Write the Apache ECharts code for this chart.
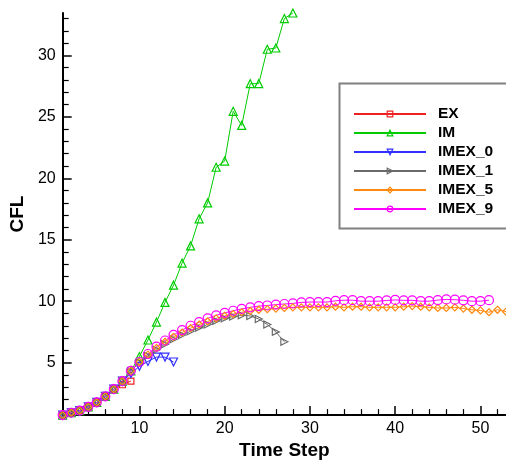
<!DOCTYPE html>
<html>
<head>
<meta charset="utf-8">
<script src="https://cdn.jsdelivr.net/npm/echarts@6/dist/echarts.min.js"></script>
<style>
html,body{margin:0;padding:0;background:#fff;}
#chart{width:506px;height:465px;}
</style>
</head>
<body>
<div id="chart"></div>
<script>
// ---- data ----
var seriesNames = ['EX', 'IM', 'IMEX_0', 'IMEX_1', 'IMEX_5', 'IMEX_9'];
var startStep = 1; // all series start at time step 1

var EX = [0.73, 0.92, 1.1, 1.4, 1.77, 2.25, 2.84, 3.2, 3.5];
var IM = [0.73, 0.92, 1.1, 1.4, 1.77, 2.25, 2.84, 3.5, 4.33,
  5.5, 6.84, 8.3, 9.9, 11.3, 13.1, 14.5, 16.7, 18.0, 20.9,
  21.4, 25.45, 24.3, 27.7, 27.7, 30.5, 30.6, 33.0, 33.45];
var IMEX_0 = [0.73, 0.92, 1.1, 1.4, 1.77, 2.25, 2.84, 3.5, 4.1,
  4.7, 5.1, 5.45, 5.45, 5.05];
var IMEX_1 = [0.73, 0.92, 1.1, 1.4, 1.77, 2.25, 2.84, 3.5, 4.33,
  5.0, 5.55, 6.05, 6.5, 6.9, 7.25, 7.55, 7.85, 8.1, 8.4,
  8.6, 8.75, 8.85, 8.8, 8.55, 8.1, 7.5, 6.7];
var IMEX_5 = [0.73, 0.92, 1.1, 1.4, 1.77, 2.25, 2.84, 3.5, 4.33,
  5.05, 5.65, 6.2, 6.7, 7.1, 7.45, 7.8, 8.1, 8.35, 8.6,
  8.8, 8.95, 9.1, 9.2, 9.3, 9.35, 9.4, 9.45, 9.5, 9.5,
  9.5, 9.5, 9.5, 9.55, 9.5, 9.55, 9.55, 9.5, 9.5, 9.5,
  9.5, 9.55, 9.6, 9.55, 9.5, 9.45, 9.45, 9.5, 9.4, 9.3,
  9.25, 9.1, 9.3, 9.15];
var IMEX_9 = [0.73, 0.92, 1.1, 1.4, 1.77, 2.25, 2.84, 3.5, 4.33,
  5.05, 5.7, 6.3, 6.8, 7.25, 7.65, 8.0, 8.3, 8.6, 8.85,
  9.05, 9.22, 9.37, 9.5, 9.6, 9.65, 9.72, 9.77, 9.82, 9.9,
  9.93, 9.93, 9.93, 10.03, 10.08, 10.08, 10.0, 10.0, 10.0, 10.06,
  10.1, 10.07, 10.07, 10.0, 10.0, 10.09, 10.14, 10.12, 10.07, 10.0,
  10.0, 10.08];

var xMin = 1, xMax = 53;
var yMin = 0.73, yMax = 33.45;
var xMajorTicks = [10, 20, 30, 40, 50];
var xMinorTicks = [2, 4, 6, 8, 12, 14, 16, 18, 22, 24, 26, 28, 32, 34, 36, 38, 42, 44, 46, 48, 52];
var yMajorTicks = [5, 10, 15, 20, 25, 30];
var yMinorTicks = [1, 2, 3, 4, 6, 7, 8, 9, 11, 12, 13, 14, 16, 17, 18, 19, 21, 22, 23, 24, 26, 27, 28, 29, 31, 32, 33];

// ---- styles ----
var allValues = [EX, IM, IMEX_0, IMEX_1, IMEX_5, IMEX_9];
var colors = ['#f02020', '#00cc00', '#3030ff', '#6a6a6a', '#ff8a10', '#ff00ff'];
var symbols = ['rect', 'triangle', 'triangle', 'triangle', 'diamond', 'circle'];
var rotates = [0, 0, 180, -90, 0, 0];
var sizes = [6, 8, 8, 7, 7, 9];

function toPairs(arr) {
  return arr.map(function (v, i) { return [startStep + i, v]; });
}

var series = seriesNames.map(function (name, k) {
  return {
    name: name,
    type: 'line',
    xAxisIndex: 0,
    yAxisIndex: 0,
    data: toPairs(allValues[k]),
    symbol: symbols[k],
    symbolRotate: rotates[k],
    symbolSize: sizes[k],
    showAllSymbol: true,
    clip: true,
    lineStyle: { color: colors[k], width: 1 },
    itemStyle: { color: 'rgba(255,255,255,0)', borderColor: colors[k], borderWidth: 1.2 },
    emphasis: { disabled: true },
    animation: false
  };
});

var fontFam = '"Liberation Sans", Arial, Helvetica, sans-serif';
var axisLine = { show: true, onZero: false, lineStyle: { color: '#000', width: 2 } };

var chart = echarts.init(document.getElementById('chart'), null, { renderer: 'canvas' });
chart.setOption({
  animation: false,
  backgroundColor: '#fff',
  grid: { left: 61, right: 0, top: 13, bottom: 44, containLabel: false },
  xAxis: [{
    type: 'value', min: xMin, max: xMax, position: 'bottom',
    axisLine: axisLine,
    axisTick: { show: true, inside: true, length: 9, customValues: xMajorTicks, lineStyle: { color: '#000', width: 1.5 } },
    axisLabel: { customValues: xMajorTicks, color: '#000', fontSize: 16, fontFamily: fontFam, margin: 5 },
    splitLine: { show: false },
    name: 'Time Step', nameLocation: 'middle', nameGap: 19,
    nameTextStyle: { color: '#000', fontSize: 19, fontWeight: 'bold', fontFamily: fontFam }
  }, {
    type: 'value', min: xMin, max: xMax, position: 'bottom', offset: 0,
    axisLine: { show: false },
    axisTick: { show: true, inside: true, length: 6, customValues: xMinorTicks, lineStyle: { color: '#000', width: 1.2 } },
    axisLabel: { show: false },
    splitLine: { show: false }
  }],
  yAxis: [{
    type: 'value', min: yMin, max: yMax, position: 'left',
    axisLine: axisLine,
    axisTick: { show: true, inside: true, length: 9, customValues: yMajorTicks, lineStyle: { color: '#000', width: 1.5 } },
    axisLabel: { customValues: yMajorTicks, color: '#000', fontSize: 16, fontFamily: fontFam, margin: 7 },
    splitLine: { show: false },
    name: 'CFL', nameLocation: 'middle', nameGap: 33,
    nameTextStyle: { color: '#000', fontSize: 19, fontWeight: 'bold', fontFamily: fontFam }
  }, {
    type: 'value', min: yMin, max: yMax, position: 'left', offset: 0,
    axisLine: { show: false },
    axisTick: { show: true, inside: true, length: 6, customValues: yMinorTicks, lineStyle: { color: '#000', width: 1.2 } },
    axisLabel: { show: false },
    splitLine: { show: false }
  }],
  legend: {
    orient: 'vertical',
    left: 353, top: 106,
    padding: 0,
    itemWidth: 72, itemHeight: 7, itemGap: 3,
    selectedMode: false,
    data: seriesNames,
    itemStyle: { color: 'rgba(255,255,255,0)', borderWidth: 1.2 },
    textStyle: { color: '#000', fontSize: 15.5, fontWeight: 'bold', fontFamily: fontFam, lineHeight: 12, padding: [0, 0, 0, 7] }
  },
  graphic: [{
    type: 'rect', z: -1, silent: true,
    shape: { x: 339.5, y: 83.5, width: 180, height: 145 },
    style: { fill: '#fff', stroke: '#808080', lineWidth: 2 }
  }],
  series: series
});
</script>
</body>
</html>
